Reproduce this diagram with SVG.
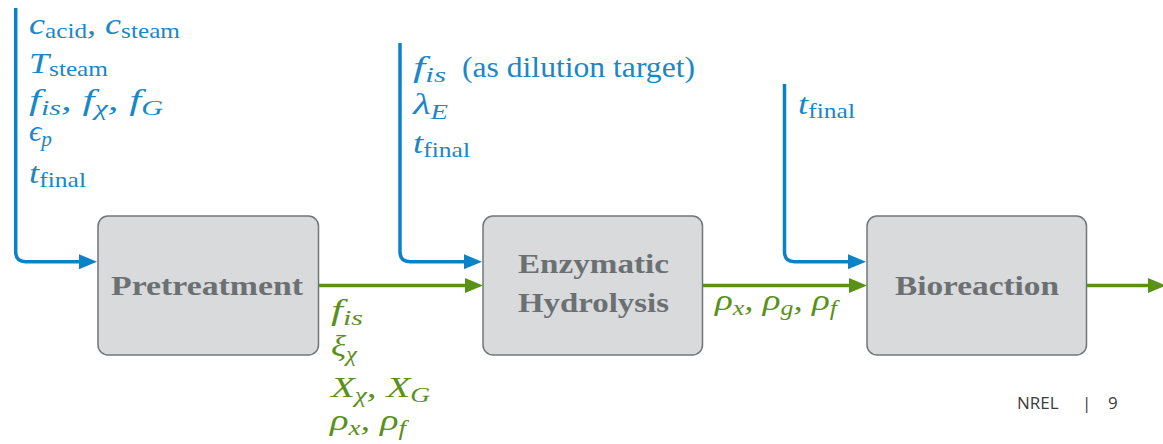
<svg xmlns="http://www.w3.org/2000/svg" width="1163" height="444" viewBox="0 0 1163 444">
<style>
.box{fill:#d9dadc;stroke:#737678;stroke-width:1.5}
.lbl{font-family:"Liberation Serif","DejaVu Serif",serif;font-weight:bold;font-size:28px;fill:#6b7073}
.m{font-family:"Liberation Serif","DejaVu Serif",serif;font-style:italic;font-size:30px}
.r{font-family:"Liberation Serif","DejaVu Serif",serif;font-style:normal;font-weight:normal}
.s{font-size:21px}
.blue{fill:#1a87c8}
.green{fill:#5a901c}
.cb{fill:none;stroke:#0a82c6;stroke-width:3.5}
.cg{fill:none;stroke:#5a9216;stroke-width:3.5}
.foot{font-family:"Open Sans","Liberation Sans",sans-serif;font-size:17px;fill:#3c3c3c}
</style>
<defs>
<marker id="ab" markerUnits="userSpaceOnUse" markerWidth="18" markerHeight="15" refX="12" refY="7.5" orient="auto"><path d="M0,0 L18,7.5 L0,15 z" fill="#0a82c6"/></marker>
<marker id="ag" markerUnits="userSpaceOnUse" markerWidth="18" markerHeight="15" refX="12" refY="7.5" orient="auto"><path d="M0,0 L18,7.5 L0,15 z" fill="#5a9216"/></marker>
</defs>
<g id="connectors">
<path class="cb" d="M15.7,8 V251.7 Q15.7,261.7 25.7,261.7 H91" marker-end="url(#ab)"/>
<path class="cb" d="M400,43 V251.7 Q400,261.7 410,261.7 H476" marker-end="url(#ab)"/>
<path class="cb" d="M784.5,84 V251.7 Q784.5,261.7 794.5,261.7 H860" marker-end="url(#ab)"/>
<path class="cg" d="M318,285.5 H477" marker-end="url(#ag)"/>
<path class="cg" d="M703,285.5 H861" marker-end="url(#ag)"/>
<path class="cg" d="M1087,285.5 H1160" marker-end="url(#ag)"/>
</g>
<g id="pretreatment">
<rect class="box" x="98" y="216" width="220.5" height="139" rx="10"/>
<text class="lbl" x="111" y="295" textLength="192" lengthAdjust="spacingAndGlyphs">Pretreatment</text>
</g>
<g id="enzymatic-hydrolysis">
<rect class="box" x="483" y="216" width="219.5" height="139" rx="10"/>
<text class="lbl" x="518" y="273" textLength="151" lengthAdjust="spacingAndGlyphs">Enzymatic</text>
<text class="lbl" x="518" y="312" textLength="151" lengthAdjust="spacingAndGlyphs">Hydrolysis</text>
</g>
<g id="bioreaction">
<rect class="box" x="867" y="216" width="219.5" height="139" rx="10"/>
<text class="lbl" x="895" y="295" textLength="164" lengthAdjust="spacingAndGlyphs">Bioreaction</text>
</g>
<g id="pretreatment-inputs" class="m blue">
<text x="29" y="34" textLength="151" lengthAdjust="spacingAndGlyphs">c<tspan class="s r" dy="4">acid</tspan><tspan dy="-4">, c</tspan><tspan class="s r" dy="4">steam</tspan></text>
<text x="29" y="72.5" textLength="79" lengthAdjust="spacingAndGlyphs">T<tspan class="s r" dy="3">steam</tspan></text>
<text x="29" y="110" textLength="134" lengthAdjust="spacingAndGlyphs">f<tspan class="s" dy="5">is</tspan><tspan dy="-5">, f</tspan><tspan class="s" dy="5">χ</tspan><tspan dy="-5">, f</tspan><tspan class="s" dy="5">G</tspan></text>
<text x="29" y="141" textLength="23" lengthAdjust="spacingAndGlyphs">ϵ<tspan class="s" dy="5">p</tspan></text>
<text x="29" y="183" textLength="57" lengthAdjust="spacingAndGlyphs">t<tspan class="s r" dy="4">final</tspan></text>
</g>
<g id="hydrolysis-inputs" class="m blue">
<text x="413" y="76.5" textLength="33" lengthAdjust="spacingAndGlyphs">f<tspan class="s" dy="5">is</tspan></text>
<text class="r" x="462" y="76.5" textLength="233" lengthAdjust="spacingAndGlyphs">(as dilution target)</text>
<text x="413" y="114" textLength="35" lengthAdjust="spacingAndGlyphs">λ<tspan class="s" dy="5">E</tspan></text>
<text x="413" y="153" textLength="57" lengthAdjust="spacingAndGlyphs">t<tspan class="s r" dy="4">final</tspan></text>
</g>
<g id="bioreaction-inputs" class="m blue">
<text x="798" y="114" textLength="57" lengthAdjust="spacingAndGlyphs">t<tspan class="s r" dy="4">final</tspan></text>
</g>
<g id="pretreatment-outputs" class="m green">
<text x="331" y="320" textLength="32" lengthAdjust="spacingAndGlyphs">f<tspan class="s" dy="5">is</tspan></text>
<text x="331" y="356" textLength="26" lengthAdjust="spacingAndGlyphs">ξ<tspan class="s" dy="5">χ</tspan></text>
<text x="331" y="397" textLength="99" lengthAdjust="spacingAndGlyphs">X<tspan class="s" dy="5">χ</tspan><tspan dy="-5">, X</tspan><tspan class="s" dy="5">G</tspan></text>
<text x="330" y="430" textLength="76" lengthAdjust="spacingAndGlyphs">ρ<tspan class="s" dy="5">x</tspan><tspan dy="-5">, ρ</tspan><tspan class="s" dy="5">f</tspan></text>
</g>
<g id="hydrolysis-outputs" class="m green">
<text x="715" y="310" textLength="122" lengthAdjust="spacingAndGlyphs">ρ<tspan class="s" dy="5">x</tspan><tspan dy="-5">, ρ</tspan><tspan class="s" dy="5">g</tspan><tspan dy="-5">, ρ</tspan><tspan class="s" dy="5">f</tspan></text>
</g>
<g id="footer" class="foot">
<text x="1017" y="409">NREL</text>
<text x="1082" y="409">|</text>
<text x="1108" y="409">9</text>
</g>
</svg>
